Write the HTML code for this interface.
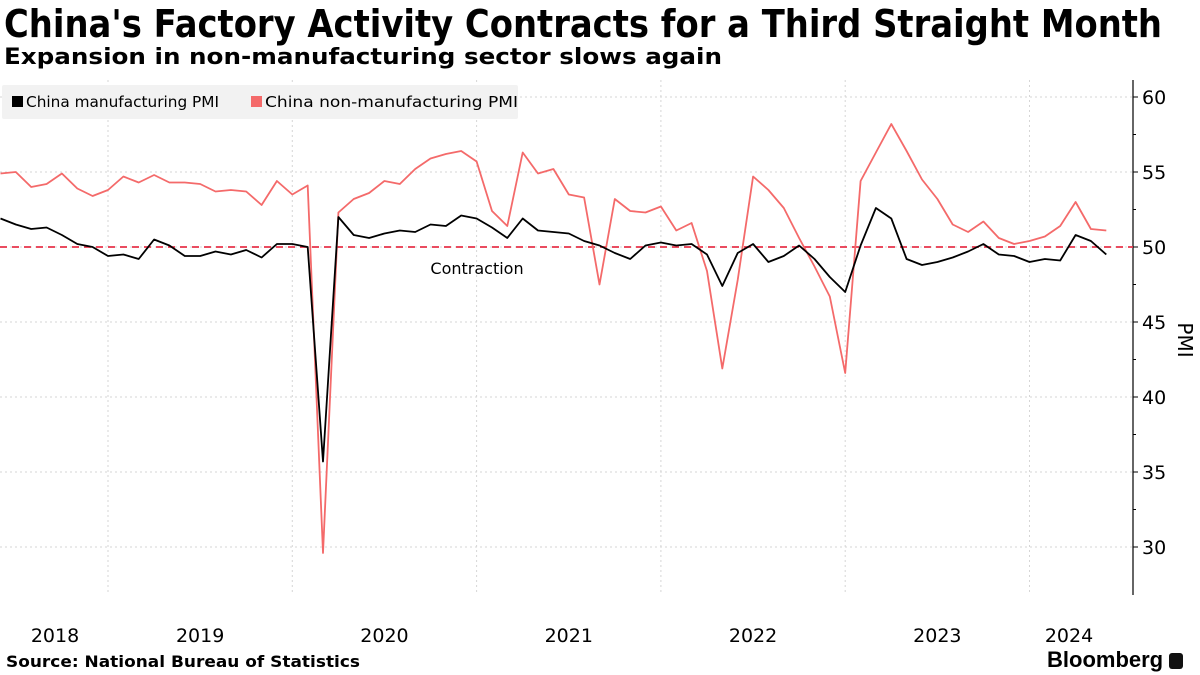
<!DOCTYPE html>
<html><head><meta charset="utf-8"><style>
body{margin:0;background:#fff;font-family:"Liberation Sans",sans-serif;}
#wrap{position:relative;width:1200px;height:675px;overflow:hidden;}
.t{position:absolute;white-space:nowrap;transform-origin:0 0;}
</style></head><body>
<div id="wrap">
<div class="t" id="title" data-w="1158" style="left:4px;top:2px;font-size:38px;font-weight:bold;font-family:'DejaVu Sans',sans-serif;">China's Factory Activity Contracts for a Third Straight Month</div>
<div class="t" id="sub" data-w="718" style="left:4px;top:45px;font-size:22px;font-weight:bold;font-family:'DejaVu Sans',sans-serif;">Expansion in non-manufacturing sector slows again</div>
<svg id="svg" width="1200" height="675" style="position:absolute;left:0;top:0"></svg>
<div class="t" id="src" data-w="354" style="left:6px;top:652px;font-size:16px;font-weight:bold;font-family:'DejaVu Sans',sans-serif;">Source: National Bureau of Statistics</div>
<div class="t" style="left:1047px;top:647px;font-size:22px;font-weight:bold;">Bloomberg <span style="display:inline-block;width:14px;height:16px;background:#111;border-radius:3px;vertical-align:-2px"></span></div>
</div>
<script>
const startYear = 2018, startMonth = 5;
const mfg = [51.9,51.5,51.2,51.3,50.8,50.2,50.0,49.4,
49.5,49.2,50.5,50.1,49.4,49.4,49.7,49.5,49.8,49.3,50.2,50.2,
50.0,35.7,52.0,50.8,50.6,50.9,51.1,51.0,51.5,51.4,52.1,51.9,
51.3,50.6,51.9,51.1,51.0,50.9,50.4,50.1,49.6,49.2,50.1,50.3,
50.1,50.2,49.5,47.4,49.6,50.2,49.0,49.4,50.1,49.2,48.0,47.0,
50.1,52.6,51.9,49.2,48.8,49.0,49.3,49.7,50.2,49.5,49.4,49.0,
49.2,49.1,50.8,50.4,49.5];
const nonMfg = [54.9,55.0,54.0,54.2,54.9,53.9,53.4,53.8,
54.7,54.3,54.8,54.3,54.3,54.2,53.7,53.8,53.7,52.8,54.4,53.5,
54.1,29.6,52.3,53.2,53.6,54.4,54.2,55.2,55.9,56.2,56.4,55.7,
52.4,51.4,56.3,54.9,55.2,53.5,53.3,47.5,53.2,52.4,52.3,52.7,
51.1,51.6,48.4,41.9,47.8,54.7,53.8,52.6,50.6,48.7,46.7,41.6,
54.4,56.3,58.2,56.4,54.5,53.2,51.5,51.0,51.7,50.6,50.2,50.4,
50.7,51.4,53.0,51.2,51.1];
const yTicks = [30,35,40,45,50,55,60];
const yearLabels = ["2018","2019","2020","2021","2022","2023","2024"];

document.querySelectorAll('[data-w]').forEach(el=>{
 const w=el.getBoundingClientRect().width;
 el.style.transform='scaleX('+(+el.dataset.w/w)+')';
});

const NS="http://www.w3.org/2000/svg", svg=document.getElementById('svg');
const jan2019X=108, yearW=184.3;
function xMonths(m){return jan2019X + (m-12)*yearW/12;}
function xIdx(i){return xMonths((startYear-2018)*12 + startMonth + i);}
function y(v){return 247 - (v-50)*15;}
function mk(tag,attrs){const e=document.createElementNS(NS,tag);for(const k in attrs)e.setAttribute(k,attrs[k]);svg.appendChild(e);return e;}
const plotTop=80, plotBot=595, axisX=1133;
yTicks.forEach(t=>{
 const g=mk('line',{x1:0,x2:axisX,y1:y(t),y2:y(t),stroke:'#d6d6d6','stroke-dasharray':'2,3'});
 
 
 const tk=mk('line',{x1:axisX,x2:axisX+5,y1:y(t),y2:y(t),stroke:'#000'});
 
 
 if(y(t+2.5)>plotTop){
  const mt=mk('line',{x1:axisX,x2:axisX+3,y1:y(t+2.5),y2:y(t+2.5),stroke:'#000'});
  
  
 }
 const tx=mk('text',{x:axisX+9,y:y(t)+7,'font-size':19,'font-family':'DejaVu Sans, sans-serif',fill:'#000'});
 tx.textContent=t;
 
 
});
yearLabels.forEach((yl,i)=>{
 const yr=+yl;
 const gx=xMonths((yr-2018)*12);
 if(gx>0){
  const g=mk('line',{x1:gx,x2:gx,y1:plotTop,y2:plotBot,stroke:'#d6d6d6','stroke-dasharray':'2,3'});
  
  
 }
 const nx=xMonths((yr-2018)*12+12);
 const cx=(Math.max(gx,0)+nx)/2;
 const tx=mk('text',{x:yr===2018?55:(yr===2024?1069:cx),y:642,'font-size':19,'text-anchor':'middle','font-family':'DejaVu Sans, sans-serif',fill:'#000'});
 tx.textContent=yl;
 
 
});
const ax=mk('line',{x1:axisX,x2:axisX,y1:plotTop,y2:plotBot,stroke:'#000','stroke-width':1.2});


const at=mk('text',{x:1178,y:340,'font-size':20,'font-family':'DejaVu Sans, sans-serif',transform:'rotate(90 1178 340)','text-anchor':'middle'});
at.textContent='PMI';


const th=mk('line',{x1:0,x2:axisX,y1:y(50),y2:y(50),stroke:'#e8334a','stroke-width':1.8,'stroke-dasharray':'7,5'});


const ct=mk('text',{x:477,y:274,'font-size':16,'text-anchor':'middle','font-family':'DejaVu Sans, sans-serif'});
ct.textContent='Contraction';


function line(data,color,name){
 const p=mk('polyline',{points:data.map((v,i)=>xIdx(i).toFixed(1)+','+y(v).toFixed(1)).join(' '),fill:'none',stroke:color,'stroke-width':1.8,'stroke-linejoin':'round'});
 
 
}
line(nonMfg,'#f46a6a','non-manufacturing-pmi-line');
line(mfg,'#000','manufacturing-pmi-line');
const lb=mk('rect',{x:2,y:85,width:516,height:34,fill:'#f2f2f2',rx:2});


[[12,'#000','China manufacturing PMI',193],[251,'#f46a6a','China non-manufacturing PMI',253]].forEach(([lx,c,tx,w])=>{
 const r=mk('rect',{x:lx,y:96,width:11,height:11,fill:c});
 
 
 const t=mk('text',{x:lx+14,y:107,'font-size':15.5,'font-family':'DejaVu Sans, sans-serif',fill:'#000',textLength:w,lengthAdjust:'spacingAndGlyphs'});
 t.textContent=tx;
 
 
});
</script>
</body></html>
